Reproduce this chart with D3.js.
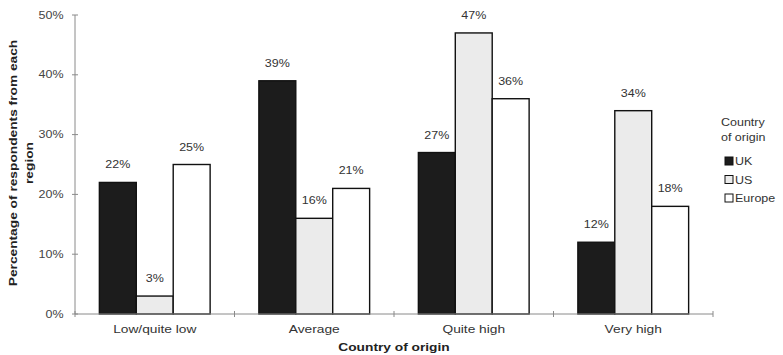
<!DOCTYPE html>
<html>
<head>
<meta charset="utf-8">
<script src="https://cdn.jsdelivr.net/npm/d3@7"></script>
<style>
  body { margin: 0; background: #fff; }
  svg { display: block; font-family: "Liberation Sans", Arial, sans-serif; }
</style>
</head>
<body>
<svg id="chart" width="783" height="355"></svg>
<script>
const categories = ["Low/quite low", "Average", "Quite high", "Very high"];
const seriesNames = ["UK", "US", "Europe"];
const ukValues = [22, 39, 27, 12];
const usValues = [3, 16, 47, 34];
const europeValues = [25, 21, 36, 18];
const yTicks = [0, 10, 20, 30, 40, 50];
const seriesFill = { UK: "#1c1c1c", US: "#ebebeb", Europe: "#ffffff" };

const data = categories.map((c, i) => ({
  category: c,
  values: [
    { series: "UK", value: ukValues[i] },
    { series: "US", value: usValues[i] },
    { series: "Europe", value: europeValues[i] }
  ]
}));

(function draw() {
const svg = d3.select("#chart");
const mLeft = 75, mRight = 713, mTop = 15, mBottom = 314;
const SX = 1.25; // horizontal stretch of the lettering

function label(x, yy, str, size, anchor, opts) {
  opts = opts || {};
  const t = svg.append("text")
    .attr("transform", `translate(${x},${yy})${opts.rotate ? " rotate(" + opts.rotate + ")" : ""} scale(${SX},1)`)
    .attr("text-anchor", anchor)
    .attr("font-size", size)
    .attr("fill", opts.fill || "#333")
    .attr("font-weight", opts.bold ? "bold" : "normal")
    .text(str);
  return t;
}

const x0 = d3.scaleBand().domain(categories).range([mLeft, mRight]).paddingInner(0).paddingOuter(0);
const x1 = d3.scaleBand().domain(seriesNames).range([0, x0.bandwidth()]).paddingInner(0).paddingOuter(0.66);
const y = d3.scaleLinear().domain([0, 50]).range([mBottom, mTop]);

const axisColor = "#8a8a8a";

// Y axis
svg.append("line").attr("x1", mLeft).attr("x2", mLeft).attr("y1", y(50)).attr("y2", y(0))
  .attr("stroke", axisColor).attr("stroke-width", 1);
yTicks.forEach(t => {
  svg.append("line").attr("x1", mLeft - 3).attr("x2", mLeft + 3).attr("y1", y(t)).attr("y2", y(t))
    .attr("stroke", axisColor);
  label(63.5, y(t) + 3.5, t + "%", 10, "end", { fill: "#444" });
});

// Bars
const groups = svg.selectAll("g.grp").data(data).join("g")
  .attr("class", "grp")
  .attr("transform", d => `translate(${x0(d.category)},0)`);
groups.selectAll("rect").data(d => d.values).join("rect")
  .attr("x", d => x1(d.series))
  .attr("y", d => y(d.value))
  .attr("width", x1.bandwidth())
  .attr("height", d => y(0) - y(d.value))
  .attr("fill", d => seriesFill[d.series])
  .attr("stroke", "#111")
  .attr("stroke-width", 1.4);
data.forEach(g => {
  g.values.forEach(d => {
    label(x0(g.category) + x1(d.series) + x1.bandwidth() / 2, y(d.value) - 14, d.value + "%", 10, "middle");
  });
});

// X axis
svg.append("line").attr("x1", mLeft).attr("x2", mRight).attr("y1", y(0)).attr("y2", y(0))
  .attr("stroke", axisColor).attr("stroke-width", 1);
const boundaries = categories.map(c => x0(c)).concat([mRight]);
boundaries.forEach(b => {
  svg.append("line").attr("x1", b).attr("x2", b).attr("y1", y(0) - 3).attr("y2", y(0) + 3)
    .attr("stroke", axisColor);
});
categories.forEach(c => {
  label(x0(c) + x0.bandwidth() / 2, 333, c, 11, "middle");
});

// Axis titles
label((mLeft + mRight) / 2, 351, "Country of origin", 11, "middle", { bold: true, fill: "#222" });
label(17, 163, "Percentage of respondents from each", 11, "middle", { bold: true, fill: "#222", rotate: -90 });
label(33, 163, "region", 11, "middle", { bold: true, fill: "#222", rotate: -90 });

// Legend
label(721, 126, "Country", 10, "start");
label(721, 141, "of origin", 10, "start");
seriesNames.forEach((s, i) => {
  const cy = 161 + i * 18.5;
  svg.append("rect").attr("x", 725).attr("y", cy - 4).attr("width", 8).attr("height", 8)
    .attr("fill", seriesFill[s]).attr("stroke", "#111").attr("stroke-width", 1);
  label(735, cy + 4, s, 10, "start");
});
})();
</script>
</body>
</html>
